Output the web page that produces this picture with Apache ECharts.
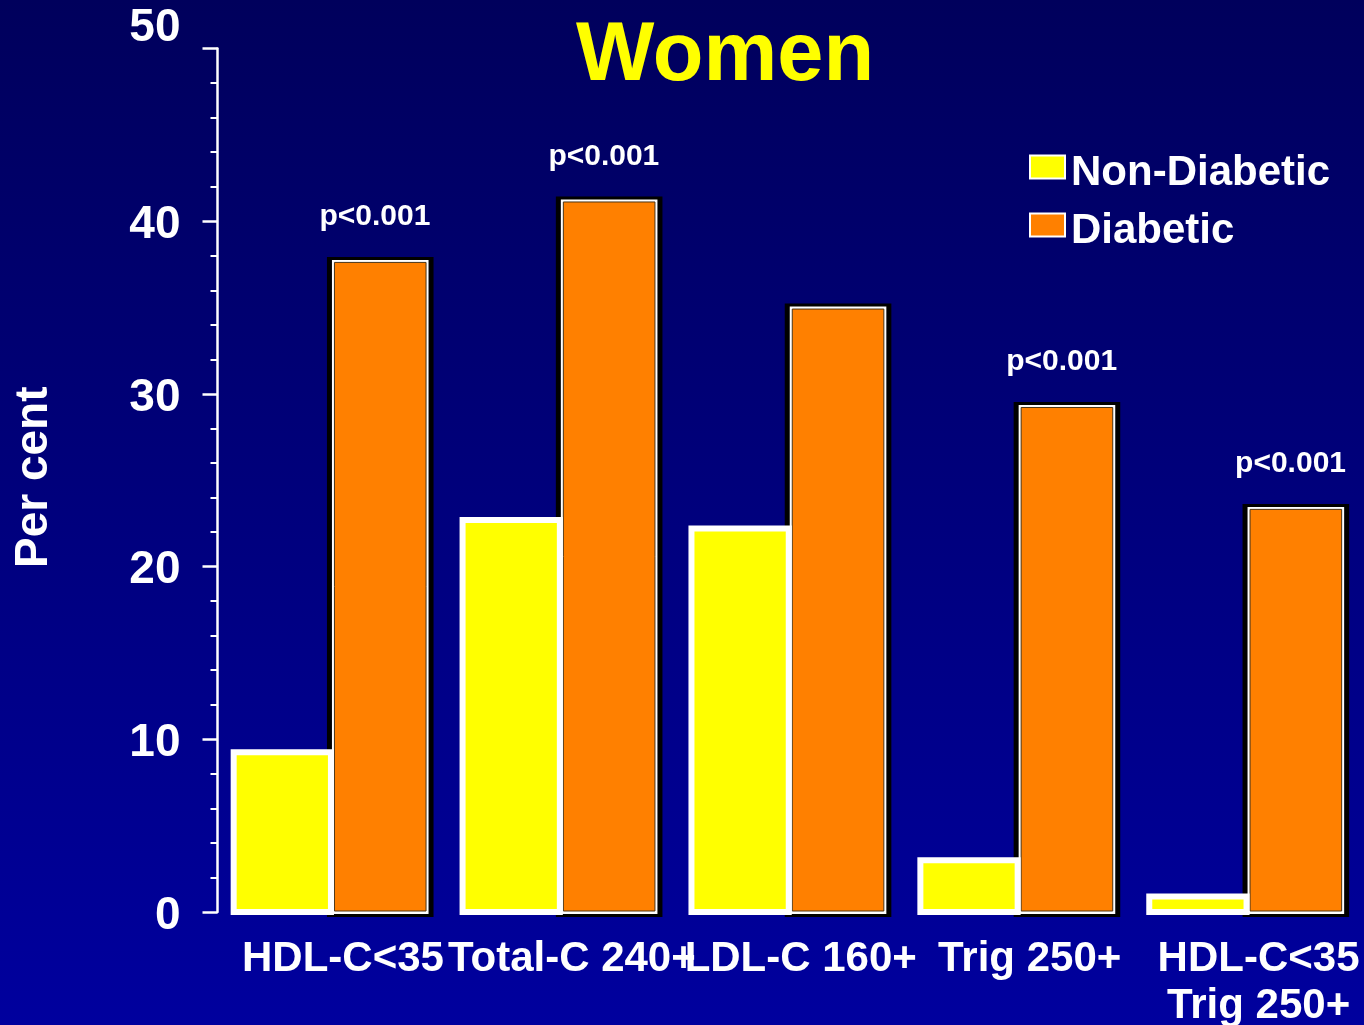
<!DOCTYPE html>
<html>
<head>
<meta charset="utf-8">
<style>
  html, body { margin: 0; padding: 0; }
  #chart { width: 1364px; height: 1025px; }
</style>
<script src="https://cdn.jsdelivr.net/npm/echarts@6/dist/echarts.min.js"></script>
</head>
<body>
<div id="chart"></div>
<script>
// Lipid abnormality prevalence (%) in women, by diabetes status
const categories = ['HDL-C<35', 'Total-C 240+', 'LDL-C 160+', 'Trig 250+', 'HDL-C<35\nTrig 250+'];
const nonDiabetic = [9.25, 22.7, 22.2, 3.0, 0.9];
const diabetic = [37.7, 41.2, 35.0, 29.3, 23.4];
const pValues = ['p<0.001', 'p<0.001', '', 'p<0.001', 'p<0.001'];
const yMin = 0, yMax = 50, yStep = 10;
const seriesNames = ['Non-Diabetic', 'Diabetic'];

const FONT = '"Liberation Sans", Arial, sans-serif';
const YELLOW = '#ffff00';
const ORANGE = '#ff8000';

const chart = echarts.init(document.getElementById('chart'));

// Left bar of each pair: yellow with a heavy white frame
function renderNonDiabetic(params, api) {
  const i = api.value(0);
  const top = api.coord([i, api.value(1)]);
  const base = api.coord([i, 0]);
  const band = api.size([1, 0])[0];
  const w = band * 0.425;
  const c = top[0];
  return {
    type: 'rect',
    z2: 10,
    shape: { x: c - w - 1, y: top[1], width: w, height: base[1] - top[1] },
    style: { fill: YELLOW, stroke: '#ffffff', lineWidth: 6 }
  };
}

// Right bar of each pair: orange with a white rule inside a black frame
function renderDiabetic(params, api) {
  const i = api.value(0);
  const top = api.coord([i, api.value(1)]);
  const base = api.coord([i, 0]);
  const band = api.size([1, 0])[0];
  const w = band * 0.422;
  const c = top[0];
  const t = top[1];
  const b = base[1];
  const children = [
    { type: 'rect', shape: { x: c - 5, y: t - 4, width: w + 10, height: b - t + 9 }, style: { fill: '#000000' } },
    { type: 'rect', shape: { x: c, y: t - 1, width: w, height: b - t + 3 }, style: { fill: '#ffffff' } },
    { type: 'rect', shape: { x: c + 2.5, y: t + 1.5, width: w - 5, height: b - t - 2.5 },
      style: { fill: ORANGE, stroke: '#4a3416', lineWidth: 1 } }
  ];
  const p = pValues[i];
  if (p) {
    children.push({
      type: 'text',
      x: c + 43, y: t - 44,
      style: { text: p, fill: '#ffffff', font: 'bold 30px ' + FONT, align: 'center', verticalAlign: 'middle' }
    });
  }
  return { type: 'group', children: children };
}

const option = {
  backgroundColor: {
    type: 'linear', x: 0, y: 0, x2: 0, y2: 1,
    colorStops: [
      { offset: 0, color: '#00005c' },
      { offset: 1, color: '#00009e' }
    ]
  },
  animation: false,
  title: {
    text: 'Women',
    left: 576,
    top: 16,
    padding: 0,
    textStyle: { color: YELLOW, fontSize: 83, fontWeight: 'bold', fontFamily: FONT }
  },
  legend: {
    data: seriesNames,
    orient: 'vertical',
    left: 1029,
    top: 152,
    padding: 0,
    itemWidth: 35,
    itemHeight: 23,
    itemGap: 16,
    icon: 'rect',
    itemStyle: { borderColor: '#ffffff', borderWidth: 2 },
    formatter: function (name) { return '{n|' + name + '}{s| }'; },
    textStyle: {
      color: '#ffffff', fontSize: 42, fontWeight: 'bold', fontFamily: FONT,
      rich: {
        n: { color: '#ffffff', fontSize: 42, fontWeight: 'bold', fontFamily: FONT, lineHeight: 46, verticalAlign: 'bottom', padding: [0, 0, 0, 1] },
        s: { width: 1, height: 54, fontSize: 10 }
      }
    }
  },
  grid: { left: 217.5, right: 2, top: 48.5, bottom: 113, containLabel: false, outerBoundsMode: 'none' },
  xAxis: {
    type: 'category',
    data: categories,
    axisLine: { show: false },
    axisTick: { show: false },
    axisLabel: {
      interval: 0,
      margin: 24,
      color: '#ffffff',
      fontSize: 42,
      fontWeight: 'bold',
      fontFamily: FONT,
      lineHeight: 47,
      padding: [0, 0, 0, 22]
    }
  },
  yAxis: {
    type: 'value',
    min: yMin,
    max: yMax,
    interval: yStep,
    name: 'Per cent',
    nameLocation: 'middle',
    nameRotate: 90,
    nameGap: 160,
    nameTextStyle: { color: '#ffffff', fontSize: 46, fontWeight: 'bold', fontFamily: FONT, padding: [0, 0, 0, 6] },
    axisLine: { show: true, lineStyle: { color: '#ffffff', width: 2.5 } },
    axisTick: { show: true, length: 15, lineStyle: { color: '#ffffff', width: 2.5 } },
    minorTick: { show: true, splitNumber: 5, length: 7, lineStyle: { color: '#ffffff', width: 2 } },
    splitLine: { show: false },
    axisLabel: {
      margin: 37,
      color: '#ffffff',
      fontSize: 46,
      fontWeight: 'bold',
      fontFamily: FONT,
      padding: [8, 0, 0, 0],
      formatter: function (v) { return v === yMax ? '{hi|' + v + '}' : String(v); },
      rich: {
        hi: { color: '#ffffff', fontSize: 46, fontWeight: 'bold', fontFamily: FONT, padding: [0, 0, 49, 0] }
      }
    }
  },
  series: [
    {
      name: seriesNames[0],
      type: 'custom',
      z: 3,
      itemStyle: { color: YELLOW },
      renderItem: renderNonDiabetic,
      encode: { x: 0, y: 1 },
      data: nonDiabetic.map(function (v, i) { return [i, v]; })
    },
    {
      name: seriesNames[1],
      type: 'custom',
      z: 2,
      itemStyle: { color: ORANGE },
      renderItem: renderDiabetic,
      encode: { x: 0, y: 1 },
      data: diabetic.map(function (v, i) { return [i, v]; })
    }
  ]
};

chart.setOption(option);
</script>
</body>
</html>
